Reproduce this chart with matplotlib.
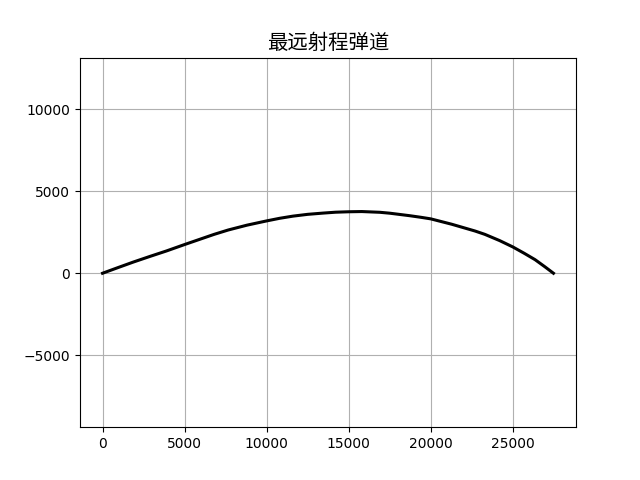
import matplotlib
matplotlib.use('Agg')
import matplotlib.pyplot as plt

# trajectory points (m)
x = [0, 900, 1870, 2900, 3900, 5000, 5900, 6800, 7660, 8800, 10000, 10800,
     11600, 12500, 13450, 14200, 15000, 15800, 16900, 17500, 18700, 19400,
     20000, 21280, 22700, 23300, 24200, 25000, 25700, 26360, 26950, 27480]
y = [0, 330, 680, 1030, 1360, 1750, 2060, 2370, 2636, 2930, 3190, 3350,
     3480, 3590, 3667, 3720, 3747, 3760, 3715, 3660, 3510, 3410,
     3315, 2987, 2574, 2370, 1990, 1605, 1215, 827, 400, 0]

plt.figure(figsize=(6.4, 4.8), dpi=100)
plt.plot(x, y, color='black', linewidth=2.2)
plt.title('最远射程弹道', fontsize=14.7, family=['Noto Sans CJK SC', 'DejaVu Sans'])
plt.axis('equal')
plt.grid(True)
plt.savefig('out.png')
